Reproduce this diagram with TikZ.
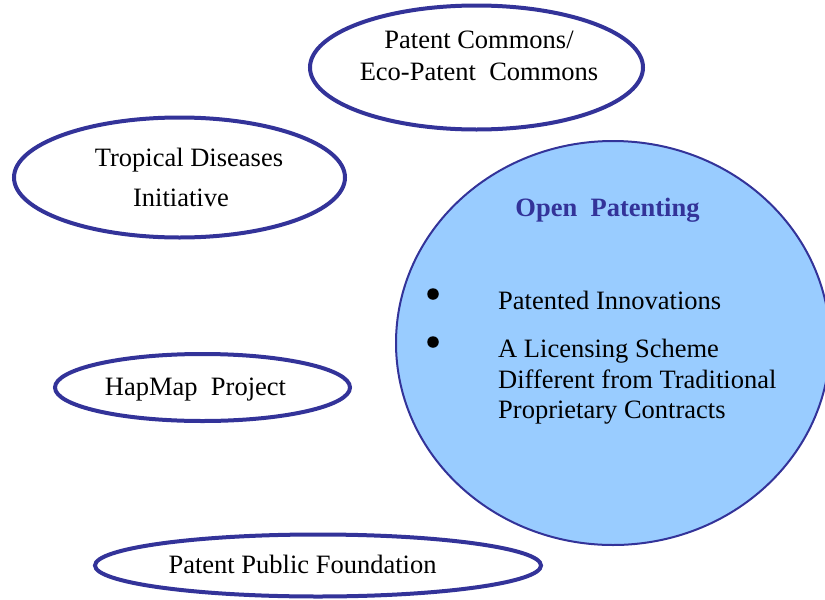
\documentclass[tikz,border=0pt]{standalone}
\usepackage{fontspec}
\setmainfont{Liberation Serif}
\usetikzlibrary{shapes.geometric}
\definecolor{edgeblue}{HTML}{333399}
\definecolor{fillblue}{HTML}{99CCFF}
\begin{document}
\begin{tikzpicture}[x=1pt,y=-1pt,
  oval/.style={ellipse, draw=edgeblue, line width=4pt, inner sep=0pt},
  bigoval/.style={ellipse, draw=edgeblue, fill=fillblue, line width=2pt, inner sep=0pt},
  lbl/.style={anchor=base, inner sep=0pt, font=\fontsize{26.5}{31}\selectfont},
  lbll/.style={lbl, anchor=base west},
  dot/.style={circle, fill=black, inner sep=0pt, minimum size=11.5pt}
  ]
\useasboundingbox[fill=white] (0,0) rectangle (825,600);
% shapes
\node[bigoval, minimum width=434pt, minimum height=404pt] (open) at (613,343) {};
\node[oval, minimum width=333pt, minimum height=124pt] (pc) at (476.5,67.5) {};
\node[oval, minimum width=331pt, minimum height=120pt] (tdi) at (179.5,177.5) {};
\node[oval, minimum width=295pt, minimum height=67pt] (hap) at (202.5,387.5) {};
\node[oval, minimum width=446pt, minimum height=62pt] (ppf) at (318,565.5) {};
% texts
\node[lbl] (pc1) at (479,48) {Patent Commons/};
\node[lbl] (pc2) at (479,80) {Eco-Patent\ \ Commons};
\node[lbl] (tdi1) at (189,166.5) {Tropical Diseases};
\node[lbl] (tdi2) at (181,206) {Initiative};
\node[lbl] (hap1) at (195.5,395) {HapMap\ \ Project};
\node[lbl] (ppf1) at (302.5,573) {Patent Public Foundation};
\node[lbl, text=edgeblue, font=\fontsize{26.5}{31}\selectfont\bfseries] (ot) at (607.5,216) {Open\ \ Patenting};
\node[dot] (b1) at (433,294) {};
\node[dot] (b2) at (433,342) {};
\node[lbll] (i1) at (498,309) {Patented Innovations};
\node[lbll] (i2a) at (498,357) {A Licensing Scheme};
\node[lbll] (i2b) at (498,388) {Different from Traditional};
\node[lbll] (i2c) at (498,418) {Proprietary Contracts};
\end{tikzpicture}
\end{document}
